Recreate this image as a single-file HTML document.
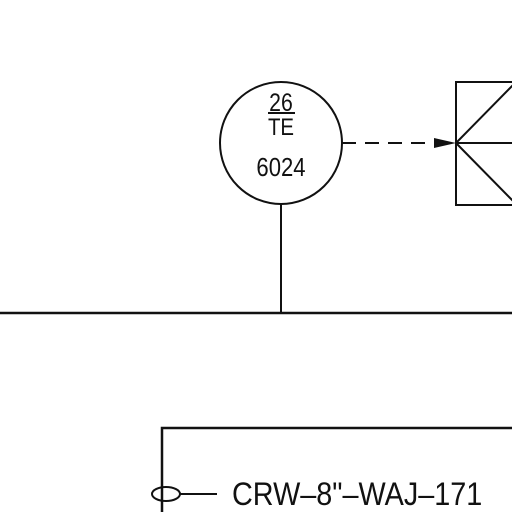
<!DOCTYPE html>
<html><head><style>body{margin:0;background:#fff}svg{display:block}</style></head>
<body>
<svg width="512" height="512" viewBox="0 0 512 512" font-family="'Liberation Sans', sans-serif" stroke="#111" fill="none">
<circle cx="281" cy="143" r="61" stroke-width="2"/>
<text x="281" y="111" font-size="25" text-anchor="middle" fill="#111" stroke="none" transform="translate(281,0) scale(0.85,1) translate(-281,0)">26</text>
<line x1="268" y1="113" x2="295" y2="113" stroke-width="2"/>
<text x="281" y="135" font-size="24" text-anchor="middle" fill="#111" stroke="none" transform="translate(281,0) scale(0.85,1) translate(-281,0)">TE</text>
<text x="281" y="176" font-size="26" text-anchor="middle" fill="#111" stroke="none" transform="translate(281,0) scale(0.85,1) translate(-281,0)">6024</text>
<line x1="342" y1="143" x2="440" y2="143" stroke-width="2" stroke-dasharray="14,9"/>
<polygon points="434,138 456,143 434,148" fill="#111" stroke="none"/>
<rect x="456" y="82" width="70" height="123" stroke-width="2"/>
<line x1="456" y1="143" x2="514" y2="84" stroke-width="2"/>
<line x1="456" y1="143" x2="512" y2="143" stroke-width="2"/>
<line x1="456" y1="143" x2="514" y2="202" stroke-width="2"/>
<line x1="281" y1="204" x2="281" y2="313" stroke-width="2"/>
<line x1="0" y1="313" x2="512" y2="313" stroke-width="2.5"/>
<polyline points="162,512 162,428 512,428" stroke-width="2.5"/>
<ellipse cx="166" cy="494" rx="14" ry="7" stroke-width="2"/>
<line x1="180" y1="494" x2="217" y2="494" stroke-width="2"/>
<text x="232" y="505" font-size="32" fill="#111" stroke="none" transform="translate(232,0) scale(0.9,1) translate(-232,0)">CRW–8"–WAJ–171</text>
</svg>
</body></html>
